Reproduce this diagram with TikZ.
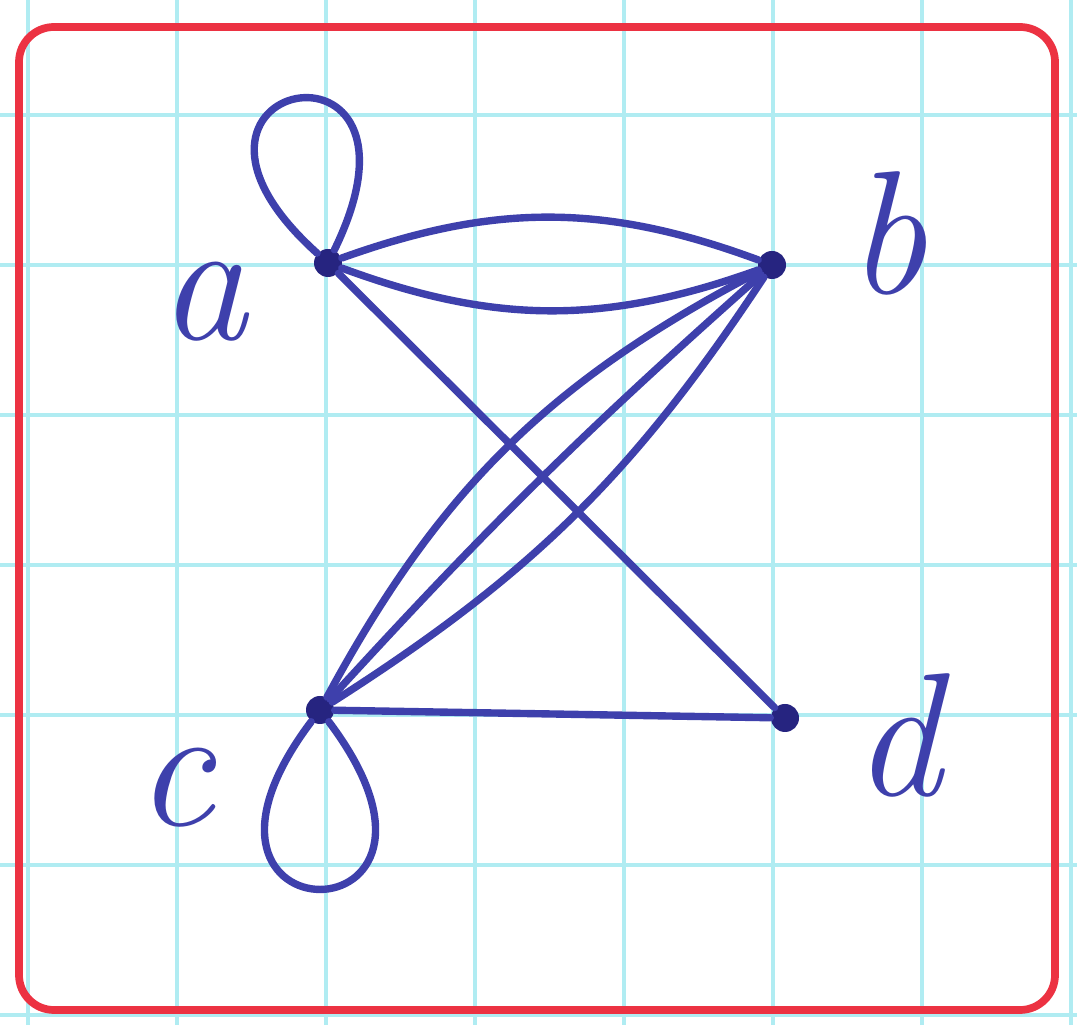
\documentclass[tikz,border=0pt]{standalone}
\usepackage{tikz}
\usetikzlibrary{positioning,calc}

\definecolor{ink}{RGB}{62,64,172}
\definecolor{inkdot}{RGB}{38,36,128}
\definecolor{pen}{RGB}{236,50,66}
\definecolor{paper}{RGB}{176,236,242}

\begin{document}
\begin{tikzpicture}[
  vertex/.style={circle, fill=inkdot, inner sep=0pt, minimum size=2.8mm},
  link/.style={draw=ink, line width=2.1pt, line cap=round},
  selfloop/.style={draw=ink, line width=2.1pt, line cap=round},
  tag/.style={text=ink, font=\fontsize{50}{54}\selectfont\itshape},
  gridline/.style={draw=paper, line width=0.9pt},
  frame/.style={draw=pen, line width=2.2pt, rounded corners=3.5mm}
]
\useasboundingbox[fill=white] (0,0) rectangle (10.77,10.25);

% squared paper
\foreach \x in {0.28,1.77,3.26,4.75,6.24,7.73,9.22,10.71}
  \draw[gridline] (\x,0) -- (\x,10.25);
\foreach \y in {0.10,1.60,3.10,4.60,6.10,7.60,9.10}
  \draw[gridline] (0,\y) -- (10.77,\y);

\draw[frame] (0.19,0.15) rectangle (10.55,9.98);

\node[vertex] (a) at (3.28,7.62) {};
\node[vertex] (b) at (7.72,7.60) {};
\node[vertex] (c) at (3.20,3.15) {};
\node[vertex] (d) at (7.85,3.07) {};

\node[tag] (la) at (2.03,7.23) {a};
\node[tag] (lb) at (8.87,7.92) {b};
\node[tag] (lc) at (1.75,2.37) {c};
\node[tag] (ld) at (8.97,2.90) {d};

\draw[selfloop] (a) to[out=138, in=64, min distance=26mm] (a);
\draw[selfloop] (c) to[out=-127, in=-53, min distance=28mm] (c);

\draw[link] (a) to[bend left=20] (b);
\draw[link] (a) to[bend right=20] (b);
\draw[link] (b) to[bend right=17] (c);
\draw[link] (b) to[bend right=3] (c);
\draw[link] (b) to[bend left=12] (c);
\draw[link] (a) -- (d);
\draw[link] (c) -- (d);
\end{tikzpicture}
\end{document}
